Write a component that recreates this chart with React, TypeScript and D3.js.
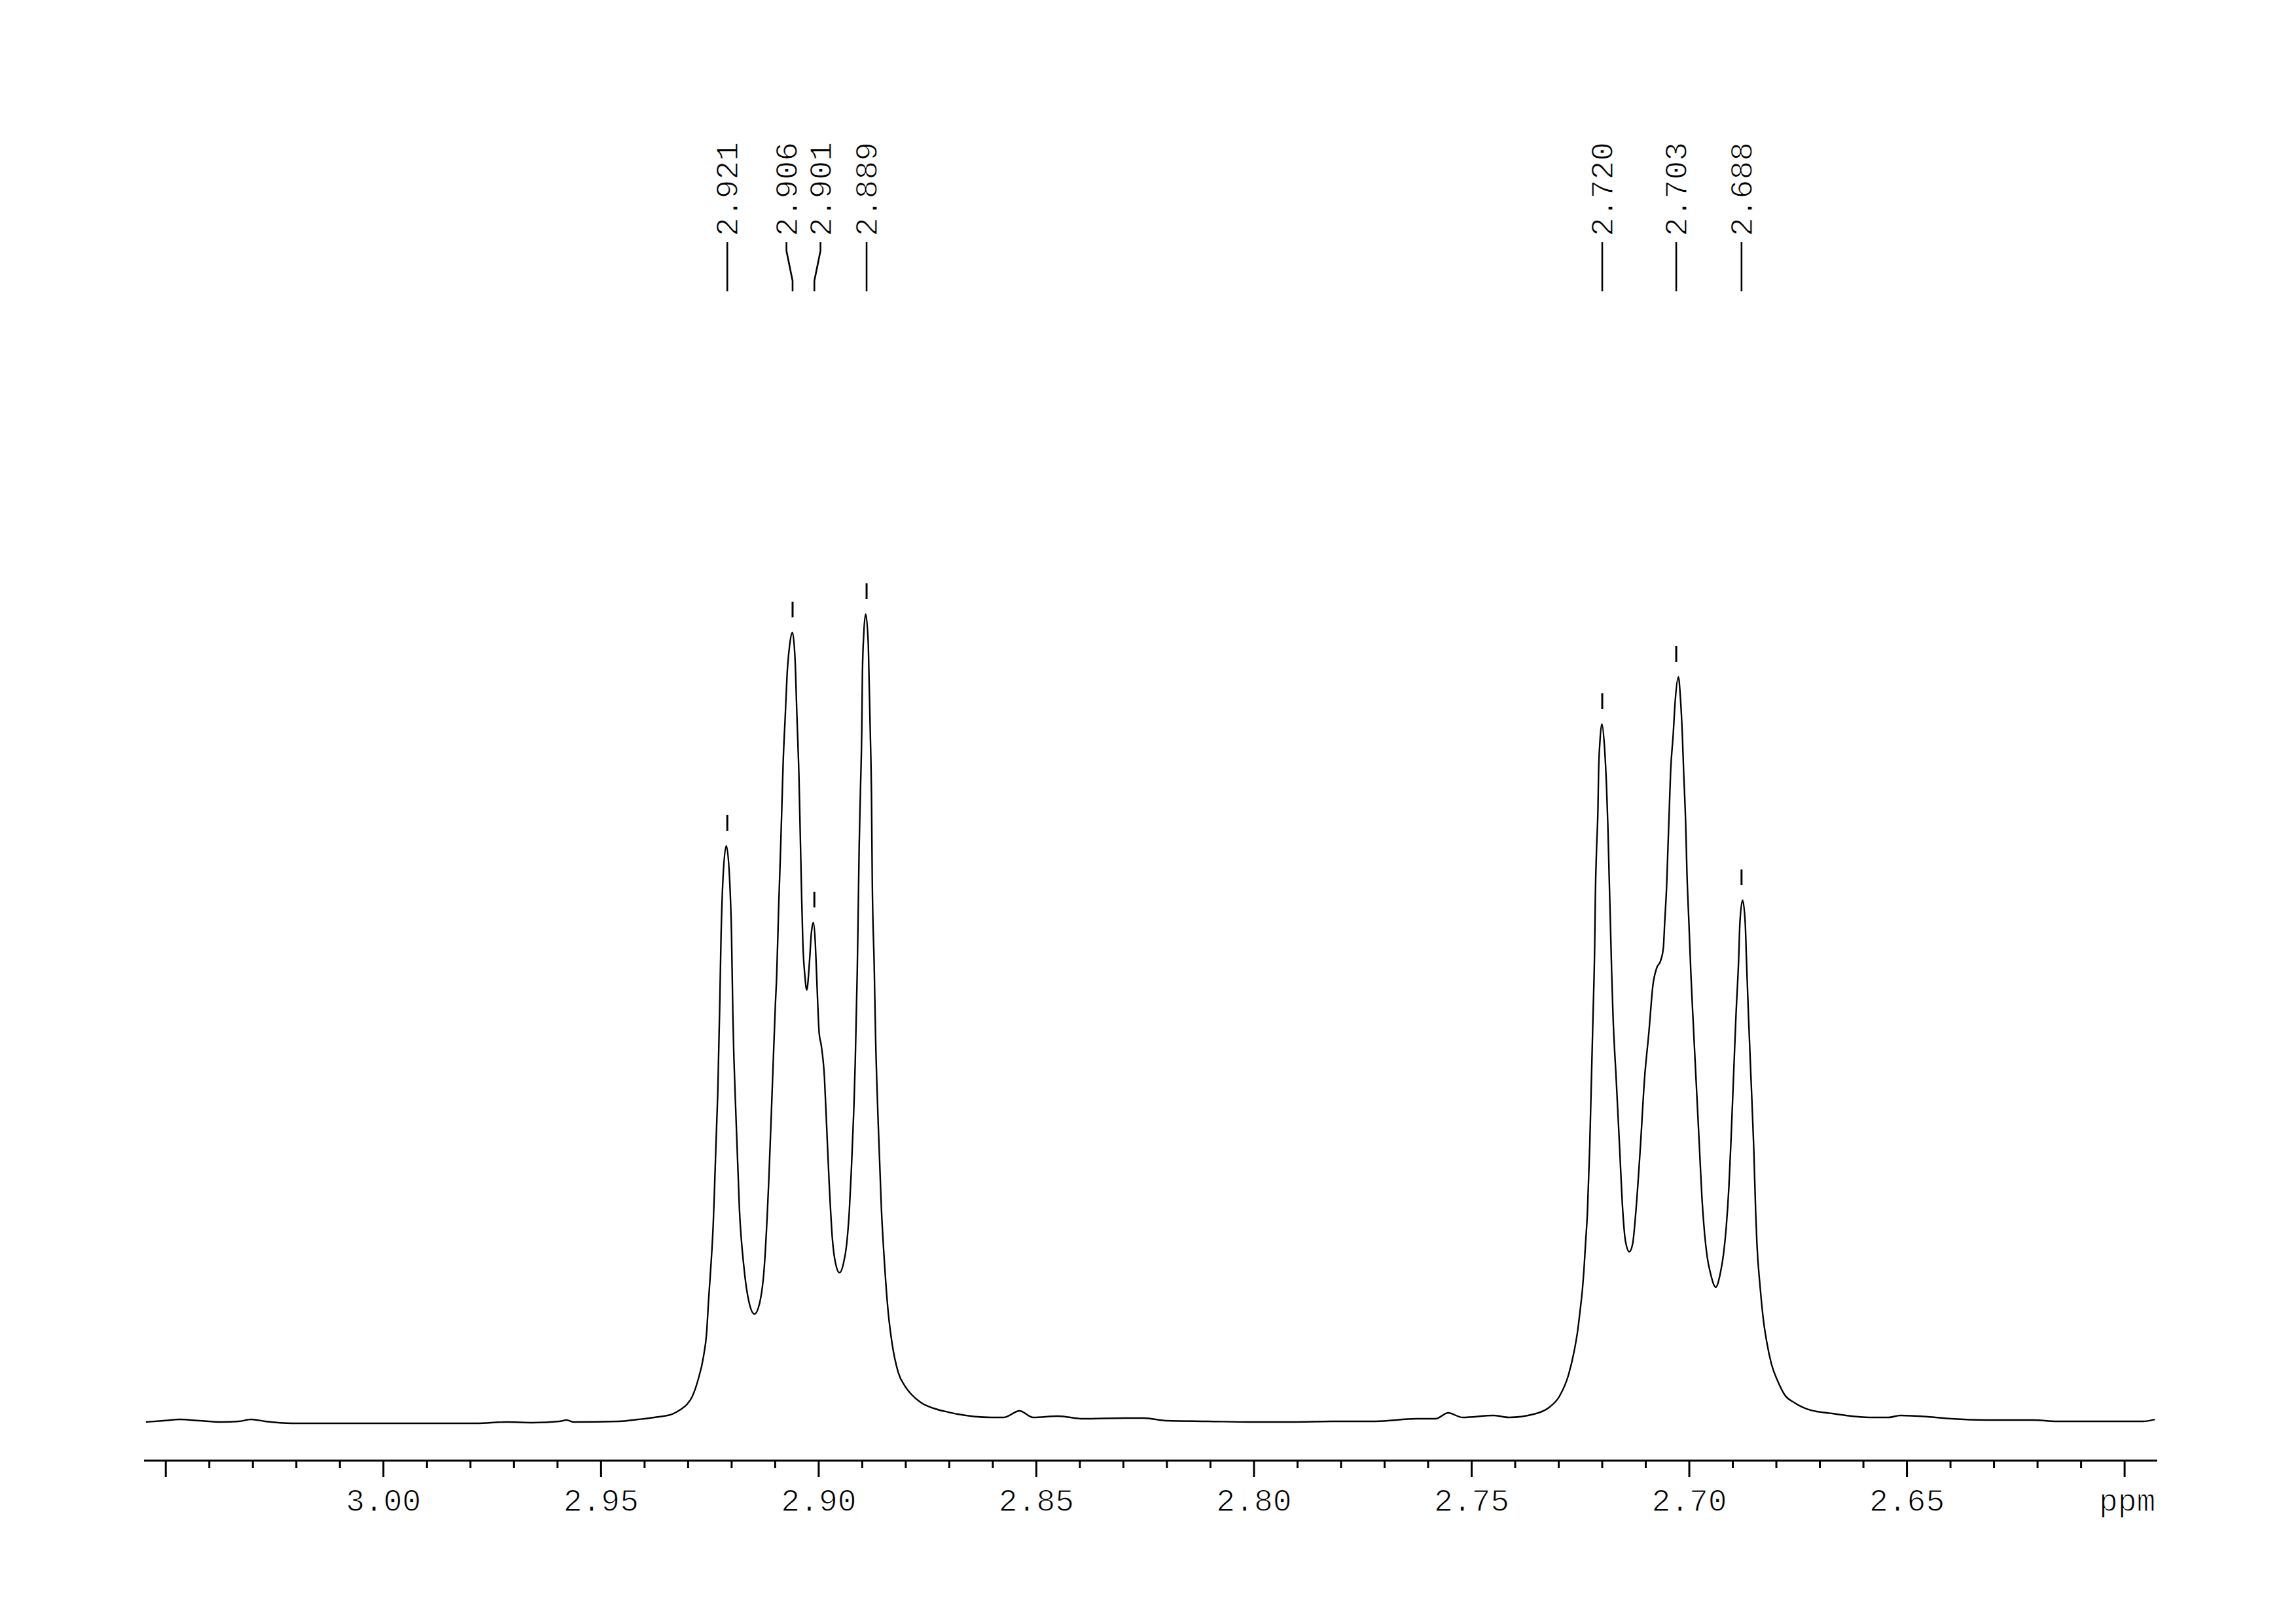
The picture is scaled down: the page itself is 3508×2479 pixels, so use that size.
import React from "react";
import * as d3 from "d3";

const W = 3508;
const H = 2479;

// Peak picking (ppm), labels and apex intensities (relative, tallest = ~100)
const peakPpm = [2.921, 2.906, 2.901, 2.889, 2.72, 2.703, 2.688];
const peakLabels = ["2.921", "2.906", "2.901", "2.889", "2.720", "2.703", "2.688"];
const peakHeight = [71.26, 97.65, 61.78, 99.92, 86.32, 92.15, 64.53];

// Axis ticks
const majorTicks = [3.05, 3.0, 2.95, 2.9, 2.85, 2.8, 2.75, 2.7, 2.65, 2.6];
const tickLabels = ["3.00", "2.95", "2.90", "2.85", "2.80", "2.75", "2.70", "2.65"];
const tickLabelValues = [3.0, 2.95, 2.9, 2.85, 2.8, 2.75, 2.7, 2.65];
const unitLabel = "ppm";
const unitAt = 2.6;
const ppmDomain = [3.055, 2.5925];

// Spectrum trace: [ppm, relative intensity]
const spectrum: [number, number][] = [
  [3.05457, 0], [3.05051, 0.16], [3.04675, 0.32], [3.04224, 0.16], [3.03728, 0],
  [3.03322, 0.08], [3.03037, 0.32], [3.02721, 0.08], [3.0209, -0.16], [2.9979, -0.16],
  [2.97865, -0.16], [2.97174, 0], [2.96572, -0.08], [2.95956, 0.08], [2.95791, 0.24],
  [2.95625, 0], [2.94588, 0.08], [2.94152, 0.32], [2.93776, 0.57], [2.9337, 0.97],
  [2.93175, 1.54], [2.93025, 2.19], [2.92904, 3.16], [2.92769, 5.26], [2.92649, 8.02],
  [2.92574, 11.09], [2.92529, 15.14], [2.92468, 20.0], [2.92423, 24.45], [2.92393, 28.91],
  [2.92356, 34.98], [2.92318, 40.81], [2.92273, 51.66], [2.92243, 60.08],
  [2.92198, 67.29], [2.92123, 71.26], [2.92048, 67.29], [2.92002, 60.08], [2.91972, 50.36],
  [2.91897, 37.25], [2.91822, 26.4], [2.91717, 19.11], [2.91597, 14.74], [2.91476, 13.36],
  [2.91356, 14.74], [2.91251, 19.11], [2.91146, 29.96], [2.9107, 40.81], [2.90995, 51.66],
  [2.90965, 55.22], [2.9092, 63.64], [2.90875, 70.93], [2.90845, 76.36], [2.90815, 81.78],
  [2.9077, 87.13], [2.90725, 92.55], [2.90665, 96.19], [2.90604, 97.65], [2.90544, 94.41],
  [2.90499, 87.13], [2.90454, 79.92], [2.90424, 72.71], [2.90394, 65.51], [2.90364, 59.27],
  [2.90319, 55.3], [2.90274, 53.44], [2.90213, 56.84], [2.90168, 60.49], [2.90123, 61.78],
  [2.90078, 59.27], [2.90048, 55.3], [2.89988, 48.02], [2.89943, 46.64], [2.89868, 42.59],
  [2.89823, 37.25], [2.89763, 29.96], [2.89687, 22.75], [2.89612, 19.6], [2.89522, 18.46],
  [2.89432, 19.6], [2.89357, 22.02], [2.89297, 26.07], [2.89252, 30.93], [2.89221, 34.98],
  [2.89191, 39.03], [2.89161, 44.45], [2.89116, 55.3],
  [2.89101, 60.08], [2.89071, 70.93], [2.89041, 78.14], [2.89011, 85.34], [2.88996, 92.55],
  [2.88966, 97.33], [2.88921, 99.92], [2.88861, 96.19], [2.88846, 92.55], [2.88815, 85.34],
  [2.88785, 76.36], [2.8877, 67.29], [2.88725, 56.44], [2.88695, 48.02], [2.88635, 37.25],
  [2.8856, 26.4], [2.88485, 19.35], [2.8841, 13.93], [2.88319, 9.88], [2.88169, 6.07],
  [2.88019, 4.45], [2.87868, 3.4], [2.87658, 2.43], [2.87267, 1.54], [2.87012, 1.21],
  [2.86801, 0.97], [2.86034, 0.57], [2.85749, 0.57],
  [2.85388, 1.38], [2.85072, 0.57], [2.84501, 0.73], [2.8393, 0.4], [2.82968, 0.49],
  [2.82532, 0.49], [2.82005, 0.16], [2.81058, 0.08], [2.80096, 0], [2.79134, 0],
  [2.78172, 0.08], [2.7721, 0.08], [2.76263, 0.4], [2.75827, 0.4], [2.75541, 1.13],
  [2.75211, 0.57], [2.74489, 0.81], [2.74143, 0.57], [2.73572, 0.97], [2.73226, 1.78],
  [2.72986, 3.16], [2.72775, 5.83], [2.72655, 8.5], [2.72565, 11.26], [2.72505, 13.93],
  [2.72452, 16.6], [2.72414, 19.35], [2.72384, 22.02], [2.72339, 26.07], [2.72287, 34.17],
  [2.72249, 42.27], [2.72211, 50.36], [2.72174, 58.7], [2.72159, 64.86], [2.72129, 71.09],
  [2.72099, 75.71], [2.72084, 80.32], [2.72054, 84.05], [2.72009, 86.32], [2.71948, 83.48],
  [2.71903, 78.79], [2.71873, 74.17], [2.71843, 67.94], [2.71813, 61.78], [2.71783, 55.55],
  [2.71753, 50.36], [2.71678, 42.27], [2.71603, 34.17], [2.71528, 26.07], [2.71468, 22.43],
  [2.71377, 21.05], [2.71302, 22.02], [2.71227, 26.07], [2.71122, 34.17], [2.71031, 42.27],
  [2.70926, 48.34], [2.70836, 54.01], [2.70746, 56.19], [2.70656, 57.09], [2.70595, 58.7],
  [2.70565, 61.78], [2.7052, 66.4], [2.7049, 71.09], [2.7046, 75.71], [2.7043, 80.32],
  [2.7037, 85.02], [2.70325, 89.07], [2.7025, 92.15], [2.70205, 89.64], [2.7016, 85.02],
  [2.70129, 80.32], [2.70084, 74.17], [2.70054, 67.94], [2.70009, 61.78], [2.69964, 55.55],
  [2.69919, 50.36], [2.69844, 42.27], [2.69769, 34.17], [2.69709, 27.69], [2.69648, 23.24],
  [2.69588, 20.4], [2.69513, 18.38], [2.69393, 16.68], [2.69288, 18.38], [2.69213, 20.81],
  [2.69152, 24.05], [2.69092, 28.91],
  [2.69047, 34.17], [2.68987, 42.27], [2.68927, 50.36], [2.68867, 57.09], [2.68837, 61.78],
  [2.68776, 64.53], [2.68716, 61.78], [2.68686, 57.09], [2.68641, 50.36], [2.68581, 42.27],
  [2.68521, 34.17], [2.68476, 26.07], [2.68446, 22.02], [2.68371, 16.6], [2.68296, 12.55],
  [2.6822, 9.88], [2.68115, 7.21], [2.67965, 5.02], [2.67814, 3.4], [2.67574, 2.35],
  [2.67213, 1.46], [2.66717, 1.05], [2.66401, 0.81], [2.6586, 0.57], [2.65424, 0.57],
  [2.65153, 0.81], [2.64522, 0.65], [2.63981, 0.4], [2.63169, 0.24], [2.62102, 0.24],
  [2.61561, 0.08], [2.59576, 0.08], [2.59305, 0.32],
];

const FONT = "'Liberation Mono', 'DejaVu Sans Mono', monospace";

function spreadLabels(xs: number[], minGap: number): number[] {
  const p = xs.slice();
  for (let it = 0; it < 200; it++) {
    let moved = false;
    for (let i = 0; i < p.length - 1; i++) {
      const gap = p[i + 1] - p[i];
      if (gap < minGap - 0.01) {
        const d = (minGap - gap) / 2;
        p[i] -= d;
        p[i + 1] += d;
        moved = true;
      }
    }
    if (!moved) break;
  }
  return p;
}

const textStyle = {
  fontFamily: FONT,
  fontSize: 48,
  fill: "#000",
  stroke: "#fff",
  strokeWidth: 1.1,
};

export default function App() {
  const x = d3.scaleLinear().domain(ppmDomain).range([220, 3296]);
  const y = d3.scaleLinear().domain([0, 100]).range([2172, 937]);

  const line = d3
    .line<[number, number]>()
    .x((d) => x(d[0]))
    .y((d) => y(d[1]))
    .curve(d3.curveMonotoneX);

  const axisY = 2231;
  const minorTicks = d3
    .range(0, 46)
    .map((i) => +(3.05 - i * 0.01).toFixed(2))
    .filter((v) => !majorTicks.some((m) => Math.abs(m - v) < 1e-6));

  const peakX = peakPpm.map((p) => x(p));
  const labelX = spreadLabels(peakX, 52);

  return (
    <svg
      width={W}
      height={H}
      viewBox={`0 0 ${W} ${H}`}
      style={{ position: "absolute", left: 0, top: 0, background: "#fff" }}
    >
      <rect x={0} y={0} width={W} height={H} fill="#fff" />
      {/* spectrum */}
      <path d={line(spectrum) || ""} fill="none" stroke="#000" strokeWidth={2.4} strokeLinejoin="round" />

      {/* peak markers above apex */}
      {peakPpm.map((p, i) => (
        <line
          key={"pm" + i}
          x1={x(p)}
          x2={x(p)}
          y1={y(peakHeight[i]) - 47}
          y2={y(peakHeight[i]) - 23}
          stroke="#000"
          strokeWidth={3}
        />
      ))}

      {/* peak label leader lines and text */}
      {peakPpm.map((p, i) => (
        <g key={"pl" + i}>
          <path
            d={`M${labelX[i]},370 V383 L${peakX[i]},429 V445`}
            fill="none"
            stroke="#000"
            strokeWidth={2.6}
          />
          <text
            transform={`translate(${labelX[i] + 16},361) rotate(-90)`}
            style={textStyle}
            textAnchor="start"
          >
            {peakLabels[i]}
          </text>
        </g>
      ))}

      {/* x axis */}
      <line x1={x(ppmDomain[0])} x2={x(ppmDomain[1])} y1={axisY} y2={axisY} stroke="#000" strokeWidth={3} />
      {majorTicks.map((v, i) => (
        <line key={"mj" + i} x1={x(v)} x2={x(v)} y1={axisY} y2={axisY + 25} stroke="#000" strokeWidth={3} />
      ))}
      {minorTicks.map((v, i) => (
        <line key={"mn" + i} x1={x(v)} x2={x(v)} y1={axisY} y2={axisY + 11} stroke="#000" strokeWidth={3} />
      ))}
      {tickLabelValues.map((v, i) => (
        <text key={"tl" + i} x={x(v)} y={2308} style={textStyle} textAnchor="middle">
          {tickLabels[i]}
        </text>
      ))}
      <text x={x(unitAt) + 4} y={2308} style={textStyle} textAnchor="middle">
        {unitLabel}
      </text>
    </svg>
  );
}
